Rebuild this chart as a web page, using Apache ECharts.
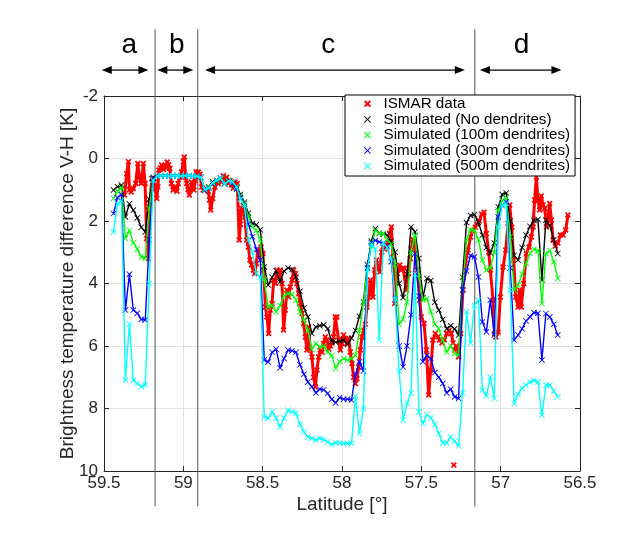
<!DOCTYPE html>
<html><head><meta charset="utf-8">
<script src="https://cdn.jsdelivr.net/npm/echarts@6/dist/echarts.min.js"></script>
<style>html,body{margin:0;padding:0;background:#fff}#c{width:641px;height:559px}</style>
</head><body><div id="c"></div>
<script>
// ---------- DATA ----------
const seriesNames = ['ISMAR data','Simulated (No dendrites)','Simulated (100m dendrites)','Simulated (300m dendrites)','Simulated (500m dendrites)'];

const simLat = [
59.44,59.415,59.39,59.365,59.34,59.315,59.29,59.265,59.24,59.215,59.19,
59.165,59.14,59.115,59.09,59.065,59.04,59.015,58.99,58.965,58.94,58.915,
58.89,58.865,58.84,58.815,58.79,58.765,58.74,58.715,58.69,58.665,58.64,58.615,58.59,58.565,58.54,58.515,58.49,58.465,58.44,58.415,
58.39,58.365,58.34,58.315,58.29,58.265,58.24,58.215,58.19,58.165,58.14,58.115,58.09,58.065,58.04,58.015,57.99,57.965,57.94,57.915,
57.89,57.865,57.84,57.815,57.79,57.765,57.74,57.715,57.69,57.665,57.64,57.615,57.59,57.565,57.54,57.515,57.49,57.465,57.44,57.415,
57.39,57.365,57.34,57.315,57.29,57.265,57.24,57.215,57.19,57.165,
57.14,57.115,57.09,57.065,57.04,57.015,56.99,56.965,56.94,56.915,56.89,56.865,56.84,56.815,56.79,56.765,56.74,56.715,56.69,56.665,56.64
];

const noDendrites = [
1.01,0.9,0.85,1.87,1.45,1.65,1.9,2.2,2.35,1.3,0.6,
0.56,0.55,0.55,0.56,0.55,0.55,0.56,0.55,0.55,0.56,0.57,
0.6,1.0,0.9,0.75,0.7,0.62,0.8,0.7,0.8,0.9,1.15,1.4,1.75,2.08,2.12,2.28,3.47,4.05,3.8,3.6,
3.95,3.6,3.5,3.55,3.8,4.25,4.78,5.07,5.6,5.39,5.35,5.32,5.45,5.85,5.88,5.85,5.81,5.95,5.75,5.5,
5.05,4.59,3.4,2.65,2.24,2.4,2.42,2.45,2.65,3.0,4.0,4.45,3.7,2.19,2.35,3.2,4.45,3.84,3.9,4.6,
4.85,5.15,5.45,5.35,5.45,5.65,3.8,2.05,1.82,1.8,
2.05,2.45,2.85,3.02,2.7,1.55,1.15,1.1,2.0,3.1,3.25,2.85,2.45,2.17,1.98,1.95,3.89,1.97,2.15,2.6,3.04
];

const dend100 = [
1.28,1.05,0.93,2.56,2.3,2.7,2.9,3.15,3.2,1.6,0.65,
0.56,0.55,0.55,0.56,0.55,0.55,0.56,0.55,0.55,0.56,0.57,
0.6,1.0,0.92,0.78,0.72,0.65,0.8,0.72,0.78,0.95,1.2,1.45,1.85,2.2,2.3,2.6,3.89,4.75,4.7,4.9,
4.7,4.4,4.32,4.35,4.53,4.9,5.17,5.5,6.1,5.92,6.03,6.0,6.2,6.3,6.72,6.5,6.4,6.45,6.4,6.3,
5.5,4.6,3.5,2.8,2.3,2.4,2.4,2.6,2.75,3.4,5.3,5.15,4.6,3.0,2.45,3.8,4.53,4.48,4.9,5.3,
5.45,5.81,6.2,6.0,6.24,6.3,4.2,2.6,2.27,2.3,
2.6,3.25,3.57,3.5,3.0,1.65,1.35,1.25,2.5,4.21,4.05,3.7,3.35,3.04,2.9,2.95,4.64,3.04,2.95,3.3,3.84
];

const dend300 = [
1.76,1.25,1.15,4.85,3.7,4.85,4.95,5.15,5.17,2.6,0.64,
0.56,0.55,0.55,0.56,0.55,0.55,0.56,0.55,0.55,0.56,0.57,
0.6,1.02,0.95,0.8,0.7,0.62,0.82,0.72,0.78,0.98,1.25,1.5,2.1,2.5,2.9,3.25,6.45,6.51,6.2,6.1,
6.7,6.4,6.13,6.15,6.2,6.6,6.9,7.15,7.3,7.5,7.38,7.4,7.52,7.7,7.82,7.65,7.7,7.7,7.73,6.9,
6.5,6.8,3.5,2.7,2.62,2.67,2.7,2.8,3.3,4.5,6.0,6.67,6.0,5.0,3.04,4.4,6.5,6.3,6.4,6.85,
7.0,7.2,7.5,7.38,7.63,7.68,4.2,3.6,3.1,3.15,
3.79,5.23,5.55,4.53,5.65,1.87,1.5,1.39,3.5,5.81,5.65,5.45,5.2,5.07,4.93,4.95,6.45,4.96,5.07,5.3,5.65
];

const dend500 = [
2.35,1.45,1.35,7.09,5.3,7.1,7.2,7.3,7.25,4.0,0.7,
0.56,0.55,0.55,0.56,0.55,0.55,0.56,0.55,0.55,0.56,0.57,
0.6,1.0,0.95,0.78,0.7,0.62,0.82,0.72,0.75,0.9,1.3,1.5,2.6,3.0,3.68,3.79,8.27,8.32,8.1,8.3,
8.6,8.3,8.05,8.1,8.15,8.5,8.75,8.91,8.95,9.01,8.95,9.0,9.07,9.15,9.1,9.1,9.12,9.12,9.12,7.6,
8.8,8.0,3.57,2.72,2.9,5.81,2.7,2.85,3.2,4.5,6.8,8.37,7.84,7.5,3.7,8.1,8.48,8.2,8.3,8.5,
8.8,9.1,9.1,8.91,9.05,9.2,7.5,4.9,5.9,4.7,
4.53,7.41,7.6,6.99,7.68,2.19,1.5,1.44,4.21,7.84,7.55,7.35,7.25,7.15,7.1,7.15,8.21,7.25,7.25,7.45,7.63
];

const ismarLat = [
59.371,59.357,59.346,59.34,59.329,59.315,59.3,59.287,59.277,59.266,59.252,59.241,59.231,59.22,59.21,59.199,59.189,59.182,
59.168,59.16,59.154,59.145,59.137,59.125,59.116,59.108,59.102,59.093,59.085,59.075,59.064,59.055,59.047,59.04,59.032,59.022,
59.011,59.0,58.994,58.985,58.979,58.97,58.962,58.955,58.948,58.94,58.933,58.925,58.92,58.912,58.906,
58.895,58.885,58.874,58.857,58.843,58.835,58.827,58.815,58.801,58.79,58.78,58.77,58.759,58.748,58.738,58.727,58.717,58.706,
58.696,58.685,58.675,58.66,58.648,58.64,58.633,58.622,58.612,58.601,58.59,58.58,58.57,58.559,58.549,58.54,58.531,58.519,
58.51,58.498,58.494,58.483,58.473,58.462,58.452,58.441,58.431,58.42,58.41,58.399,58.389,58.378,58.368,58.357,58.347,58.336,
58.326,58.315,58.305,58.294,58.284,58.273,58.263,58.252,58.242,58.231,58.221,58.21,58.2,58.189,58.179,58.168,58.158,58.147,
58.137,58.126,58.116,58.105,58.095,58.084,58.074,58.063,58.053,58.042,58.032,58.021,58.011,58.0,57.99,57.979,57.969,57.958,
57.948,57.937,57.927,57.916,57.906,57.895,57.885,57.874,57.864,57.853,57.843,57.832,57.822,57.812,57.805,57.794,57.783,57.772,
57.762,57.75,57.741,57.73,57.72,57.71,57.7,57.689,57.679,57.668,57.66,57.651,57.636,57.626,57.615,57.605,57.595,57.58,
57.57,57.563,57.552,57.542,57.525,57.51,57.5,57.483,57.468,57.454,57.441,57.427,57.412,57.395,57.385,57.37,57.355,57.34,
57.325,57.311,57.3,57.297,57.295,57.293,57.29,57.28,57.265,57.252,57.238,57.223,57.206,57.19,57.175,
57.16,57.148,57.135,57.12,57.105,57.09,57.075,57.065,57.048,57.038,57.03,57.016,57.002,56.985,56.968,56.953,56.943,56.93,
56.918,56.905,56.89,56.88,56.87,56.855,56.838,56.821,56.807,56.796,56.786,56.775,56.765,56.754,56.744,56.733,56.722,56.712,
56.702,56.691,56.68,56.67,56.655,56.639,56.624,56.607,56.59,56.576
];
const ismarVal = [
1.17,0.48,0.1,1.0,1.07,0.96,0.8,0.16,0.6,0.8,0.16,0.8,2.56,3.2,1.44,0.64,1.01,0.75,
1.28,0.9,0.37,0.3,0.21,0.35,0.21,0.3,0.11,0.2,0.32,0.8,1.01,0.95,0.91,1.05,0.8,0.6,
0.43,0.1,-0.05,0.6,0.8,1.0,1.17,1.0,0.75,0.9,1.01,0.7,0.43,0.45,0.43,
0.5,0.91,1.01,0.95,1.05,1.33,1.65,1.28,0.91,0.75,0.8,0.7,0.75,0.55,0.69,0.6,0.8,0.7,
0.85,0.95,0.75,0.8,2.61,2.1,1.6,1.5,1.87,2.61,2.83,3.25,3.4,3.57,3.68,3.36,2.93,3.15,
2.83,3.04,3.57,4.75,5.07,5.6,4.85,4.64,3.89,4.0,3.57,3.79,3.57,4.0,5.49,4.85,4.21,4.43,
4.11,3.89,3.57,3.68,4.0,4.32,4.64,4.96,5.28,5.71,6.13,5.39,6.13,6.35,7.0,7.31,6.77,6.35,
6.13,6.2,5.92,5.71,5.8,6.1,6.0,5.9,5.71,5.07,5.07,5.81,6.13,5.92,5.65,5.81,5.92,5.75,
6.19,6.56,7.0,7.2,7.05,6.67,6.13,5.71,5.5,5.3,4.75,4.43,3.89,4.2,4.43,3.57,3.25,3.5,
3.63,3.0,2.83,2.9,2.77,2.7,2.4,2.19,3.15,4.64,4.0,3.68,3.41,3.57,3.5,3.52,4.21,3.68,
3.2,2.88,2.6,2.83,3.57,4.53,5.07,5.28,6.13,7.57,6.77,5.81,5.6,5.71,5.81,5.9,5.8,5.6,
5.5,5.6,5.9,null,9.81,null,6.13,6.0,6.35,5.6,4.21,3.36,2.93,2.51,2.3,
2.2,2.1,2.0,1.78,1.72,2.4,3.0,3.57,4.53,5.6,5.71,5.55,4.43,3.47,2.93,2.08,1.49,2.2,
3.25,4.43,4.75,4.21,4.75,4.0,3.04,2.83,2.51,2.19,1.33,0.59,1.33,1.65,1.2,1.49,1.6,2.19,
1.9,1.44,1.97,2.61,2.8,2.7,2.45,2.45,2.29,1.81
];

// region annotations (latitude)
const boundaryLat = [59.178, 58.909, 57.163];
const segLabels = ['a','b','c','d'];
const segLabelLat = [59.34, 59.042, 58.087, 56.869];
const arrowFrom = [59.514, 59.164, 58.863, 57.131];
const arrowTo = [59.22, 58.937, 57.226, 56.617];

// ---------- CHART ----------
const FONT = "'Liberation Sans', Arial, Helvetica, sans-serif";
const AX = '#262626';
const colors = ['#ff0000','#000000','#00ff00','#0000ff','#00ffff'];
const thinX = 'path://M1,0L5,4L9,0L10,1L6,5L10,9L9,10L5,6L1,10L0,9L4,5L0,1Z';
const boldX = 'path://M2,0L5,3L8,0L10,2L7,5L10,8L8,10L5,7L2,10L0,8L3,5L0,2Z';

function pairs(lats, vals){ return lats.map((l,i)=>[l, vals[i]===null ? '-' : vals[i]]); }

const simVals = [noDendrites, dend100, dend300, dend500];

const lineSeries = [{
  name: seriesNames[0], type:'line', data: pairs(ismarLat, ismarVal),
  symbol: boldX, symbolSize: 6, showSymbol:true, connectNulls:false,
  lineStyle:{color:colors[0], width:3, opacity:1}, itemStyle:{color:colors[0]}, z:3, animation:false
}].concat(simVals.map((v,k)=>({
  name: seriesNames[k+1], type:'line', data: pairs(simLat, v),
  symbol: thinX, symbolSize: 6, showSymbol:true, connectNulls:false,
  lineStyle:{color:colors[k+1], width:1.4, opacity:1, type:'solid'}, itemStyle:{color:colors[k+1]}, z:3+k+1, animation:false
})));

const annotSeries = [
  { type:'custom', silent:true, clip:false, z:1, animation:false,
    data: boundaryLat.map(l=>[l,0]),
    renderItem(params, api){
      const lat = api.value(0);
      const p1 = api.coord([lat, -4.14]), p2 = api.coord([lat, 11.13]);
      return {type:'line', shape:{x1:p1[0],y1:p1[1],x2:p2[0],y2:p2[1]}, style:{stroke:'#555', lineWidth:1}};
    }
  },
  { type:'custom', silent:true, clip:false, z:1, animation:false,
    data: arrowFrom.map((f,i)=>[f, arrowTo[i]]),
    renderItem(params, api){
      const a = api.coord([api.value(0), -2.83]), b = api.coord([api.value(1), -2.83]);
      const x1 = Math.min(a[0],b[0]), x2 = Math.max(a[0],b[0]), y = a[1];
      const L = 10, W = 4;
      return {type:'group', children:[
        {type:'line', shape:{x1:x1+L-1,y1:y,x2:x2-L+1,y2:y}, style:{stroke:'#000', lineWidth:1.3}},
        {type:'polygon', shape:{points:[[x1,y],[x1+L,y-W],[x1+L,y+W]]}, style:{fill:'#000'}},
        {type:'polygon', shape:{points:[[x2,y],[x2-L,y-W],[x2-L,y+W]]}, style:{fill:'#000'}}
      ]};
    }
  },
  { type:'custom', silent:true, clip:false, z:1, animation:false,
    data: segLabelLat.map((l,i)=>[l, i]),
    renderItem(params, api){
      const p = api.coord([api.value(0), -3.63]);
      return {type:'text', x:p[0], y:p[1], style:{text: segLabels[params.dataIndex], fontSize:28, fontFamily:FONT, fill:'#000', align:'center', verticalAlign:'middle', textAlign:'center', textVerticalAlign:'middle'}};
    }
  }
];

const xBase = {type:'value', min:56.5, max:59.5, interval:0.5, inverse:true};
const yBase = {type:'value', min:-2, max:10, interval:2, inverse:true};

const option = {
  animation:false,
  backgroundColor:'#fff',
  grid:{left:104, right:61, top:96, bottom:88, containLabel:false, outerBoundsMode:'none'},
  xAxis:[
    Object.assign({}, xBase, {position:'bottom',
      name:'Latitude [°]', nameLocation:'middle', nameGap:24, nameMoveOverlap:false,
      nameTextStyle:{fontSize:19, color:AX, fontFamily:FONT},
      axisLine:{show:true, onZero:false, lineStyle:{color:AX, width:1}},
      axisTick:{show:true, inside:true, length:5, lineStyle:{color:AX}},
      axisLabel:{show:true, fontSize:17, color:AX, fontFamily:FONT, margin:4},
      splitLine:{show:true, lineStyle:{color:'#e2e2e2', width:1}}}),
    Object.assign({}, xBase, {position:'top',
      axisLine:{show:true, onZero:false, lineStyle:{color:AX, width:1}},
      axisTick:{show:true, inside:true, length:5, lineStyle:{color:AX}},
      axisLabel:{show:false}, splitLine:{show:false}})
  ],
  yAxis:[
    Object.assign({}, yBase, {position:'left',
      name:'Brightness temperature difference V-H [K]', nameLocation:'middle', nameGap:27, nameMoveOverlap:false,
      nameTextStyle:{fontSize:19, color:AX, fontFamily:FONT},
      axisLine:{show:true, onZero:false, lineStyle:{color:AX, width:1}},
      axisTick:{show:true, inside:true, length:5, lineStyle:{color:AX}},
      axisLabel:{show:true, fontSize:17, color:AX, fontFamily:FONT, margin:6},
      splitLine:{show:true, lineStyle:{color:'#e2e2e2', width:1}}}),
    Object.assign({}, yBase, {position:'right',
      axisLine:{show:true, onZero:false, lineStyle:{color:AX, width:1}},
      axisTick:{show:true, inside:true, length:5, lineStyle:{color:AX}},
      axisLabel:{show:false}, splitLine:{show:false}})
  ],
  legend:{
    orient:'vertical', left:345, top:95, z:10,
    padding:[1,5,2,19], itemGap:0, itemWidth:22, itemHeight:7,
    backgroundColor:'#fff', borderColor:'#000', borderWidth:1, borderRadius:0,
    textStyle:{fontSize:15.2, fontFamily:FONT, color:'#000', lineHeight:15.6},
    selectedMode:false,
    data: seriesNames.map((n,i)=>({name:n, icon: i===0 ? boldX : thinX, itemStyle:{color:colors[i], borderWidth:0}}))
  },
  series: lineSeries.concat(annotSeries)
};

const chart = echarts.init(document.getElementById('c'), null, {renderer:'canvas'});
chart.setOption(option);
</script></body></html>
